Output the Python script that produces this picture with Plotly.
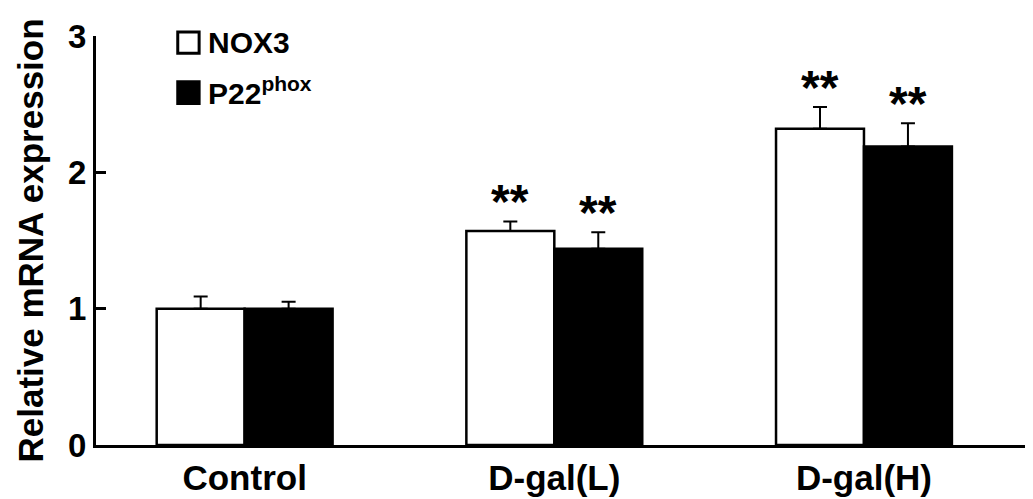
import plotly.graph_objects as go

groups = ["Control", "D-gal(L)", "D-gal(H)"]
nox3 = [1.0, 1.57, 2.32]
nox3_err = [0.09, 0.07, 0.16]
p22 = [1.0, 1.44, 2.19]
p22_err = [0.05, 0.12, 0.17]
stars_nox3 = ["", "**", "**"]
stars_p22 = ["", "**", "**"]

font_family = "Liberation Sans, Arial, sans-serif"
xpos = list(range(len(groups)))
off = 0.142

fig = go.Figure()
fig.add_trace(go.Bar(
    x=xpos, y=nox3, name="NOX3",
    marker=dict(color="white", line=dict(color="black", width=2.5)),
    error_y=dict(type="data", symmetric=False, array=nox3_err,
                 arrayminus=[0] * len(nox3), color="black", thickness=2, width=7),
))
fig.add_trace(go.Bar(
    x=xpos, y=p22, name="P22<sup>phox</sup>",
    marker=dict(color="black", line=dict(color="black", width=2.5)),
    error_y=dict(type="data", symmetric=False, array=p22_err,
                 arrayminus=[0] * len(p22), color="black", thickness=2, width=7),
))

star_font = dict(family=font_family, size=48, color="black", weight="bold")
for i, s in enumerate(stars_nox3):
    if s:
        fig.add_annotation(x=i - off, y=nox3[i] + nox3_err[i], text=s, showarrow=False,
                           yanchor="bottom", yshift=-9, font=star_font)
for i, s in enumerate(stars_p22):
    if s:
        fig.add_annotation(x=i + off, y=p22[i] + p22_err[i], text=s, showarrow=False,
                           yanchor="bottom", yshift=-9, font=star_font)

# legend drawn by hand (bigger boxes than plotly's built-in legend)
leg_font = dict(family=font_family, size=30, color="black", weight="bold")
fig.add_shape(type="rect", xref="paper", yref="paper", x0=0.088, x1=0.111, y0=0.958, y1=1.01,
              line=dict(color="black", width=3), fillcolor="white")
fig.add_shape(type="rect", xref="paper", yref="paper", x0=0.088, x1=0.111, y0=0.835, y1=0.888,
              line=dict(color="black", width=3), fillcolor="black")
fig.add_annotation(xref="paper", yref="paper", x=0.118, y=0.984, text="NOX3", showarrow=False,
                   xanchor="left", yanchor="middle", font=leg_font)
fig.add_annotation(xref="paper", yref="paper", x=0.118, y=0.865, text="P22<sup>phox</sup>",
                   showarrow=False, xanchor="left", yanchor="middle", font=leg_font)

# y-axis title
fig.add_annotation(xref="paper", yref="paper", x=-0.071, y=0.5, text="Relative mRNA expression",
                   textangle=-90, showarrow=False, xanchor="center", yanchor="middle",
                   font=dict(family=font_family, size=35, color="black", weight="bold"))

# page body has an 8px margin, so the figure is 8px smaller and margins shifted
fig.update_layout(
    width=1025, height=491,
    margin=dict(l=88, r=8, t=28, b=54),
    paper_bgcolor="white", plot_bgcolor="white",
    barmode="group", bargap=0.432, bargroupgap=0,
    font=dict(family=font_family, size=34, color="black", weight="bold"),
    showlegend=False,
)
fig.update_xaxes(
    tickmode="array", tickvals=xpos, ticktext=groups, automargin=False,
    range=[-0.48, 2.52], showline=True, linecolor="black", linewidth=3,
    ticks="", showgrid=False, zeroline=False, tickfont=dict(size=35),
)
fig.update_yaxes(
    range=[0, 3], tickvals=[0, 1, 2, 3], showline=True, linecolor="black", linewidth=3,
    automargin=False, ticks="inside", ticklen=10, tickwidth=3, tickcolor="black",
    showgrid=False, zeroline=False, tickfont=dict(size=33),
)

fig.write_html("out.html")
